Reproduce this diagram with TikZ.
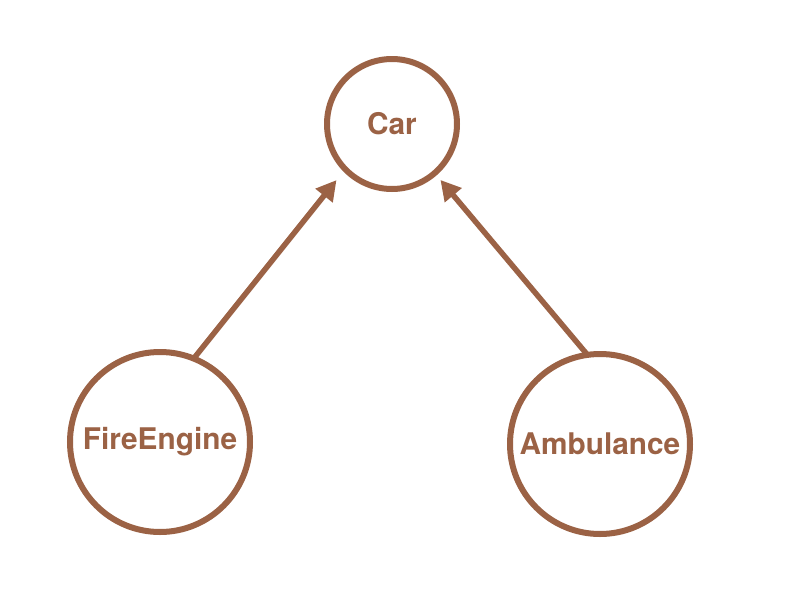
\documentclass[tikz,border=0pt]{standalone}
\usepackage{fontspec}
\setmainfont{TeX Gyre Heros}
\usetikzlibrary{arrows.meta}
\definecolor{brn}{RGB}{155,98,69}
\begin{document}
\begin{tikzpicture}[x=1pt,y=-1pt,
  cls/.style={circle,draw=brn,line width=6pt,inner sep=0pt,outer sep=0pt,text=brn,font=\fontsize{29.8}{34}\selectfont\bfseries},
  small/.style={cls,minimum size=130pt},
  big/.style={cls,minimum size=180pt},
  inh/.style={draw=brn,line width=5.5pt,-{Triangle[length=20pt,width=21pt]}}]
\useasboundingbox (0,0) rectangle (788,600);
\node[small] (car) at (392,124) {Car};
\node[big] (fe) at (160,442) {\raisebox{-1pt}{FireEngine}};
\node[big] (amb) at (600,444) {Ambulance};
\draw[inh,shorten >=14pt] (fe.68) -- (car.224);
\draw[inh,shorten >=9pt] (amb.98) -- (car.311);
\end{tikzpicture}
\end{document}
